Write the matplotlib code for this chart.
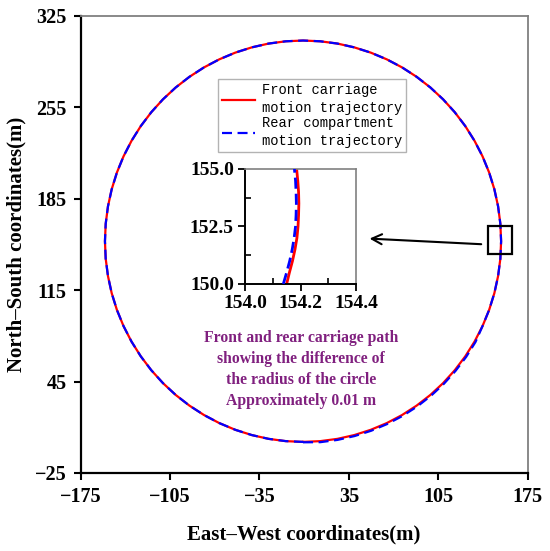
import matplotlib
matplotlib.use("Agg")
import matplotlib.pyplot as plt
from matplotlib.patches import Rectangle

# ---- data ----
front_x = [-0.90, 12.62, 26.03, 39.24, 52.15, 64.65, 76.65, 88.06, 98.80, 108.77, 117.91, 126.15,
           133.42, 139.67, 144.85, 148.92, 151.84, 153.61, 154.20, 153.61, 151.84, 148.92, 144.85,
           139.67, 133.42, 126.15, 117.91, 108.77, 98.80, 88.06, 76.65, 64.65, 52.15, 39.24, 26.03,
           12.62, -0.90, -14.42, -27.83, -41.04, -53.95, -66.45, -78.45, -89.86, -100.60, -110.57,
           -119.71, -127.95, -135.22, -141.47, -146.65, -150.72, -153.64, -155.41, -156.00, -155.41,
           -153.64, -150.72, -146.65, -141.47, -135.22, -127.95, -119.71, -110.57, -100.60, -89.86,
           -78.45, -66.45, -53.95, -41.04, -27.83, -14.42, -0.90]
front_y = [-1.20, -0.61, 1.13, 4.04, 8.07, 13.20, 19.39, 26.60, 34.76, 43.82, 53.70, 64.34, 75.65,
           87.54, 99.93, 112.72, 125.81, 139.10, 152.50, 165.90, 179.19, 192.28, 205.07, 217.46,
           229.35, 240.66, 251.30, 261.18, 270.24, 278.40, 285.61, 291.80, 296.93, 300.96, 303.87,
           305.61, 306.20, 305.61, 303.87, 300.96, 296.93, 291.80, 285.61, 278.40, 270.24, 261.18,
           251.30, 240.66, 229.35, 217.46, 205.07, 192.28, 179.19, 165.90, 152.50, 139.10, 125.81,
           112.72, 99.93, 87.54, 75.65, 64.34, 53.70, 43.82, 34.76, 26.60, 19.39, 13.20, 8.07, 4.04,
           1.13, -0.61, -1.20]
rear_x = [-0.90, 12.69, 26.17, 39.45, 52.42, 64.99, 77.05, 88.52, 99.31, 109.34, 118.52, 126.81,
          134.11, 139.67, 144.85, 148.92, 151.84, 153.61, 154.20, 153.61, 151.84, 148.92, 144.85,
          139.67, 133.42, 126.15, 117.91, 108.77, 98.80, 88.06, 76.65, 64.65, 52.15, 39.24, 26.03,
          12.62, -0.90, -14.42, -27.83, -41.04, -53.95, -66.45, -78.45, -89.86, -100.60, -110.57,
          -119.71, -127.95, -135.22, -141.47, -146.65, -150.72, -153.64, -155.41, -156.00, -155.41,
          -153.64, -150.72, -146.65, -141.47, -135.22, -127.95, -119.71, -110.57, -100.60, -89.86,
          -78.45, -66.45, -53.95, -41.04, -27.83, -14.42, -0.90]
rear_y = [-1.50, -1.41, 0.34, 3.27, 7.32, 12.48, 18.70, 25.94, 34.15, 43.25, 53.19, 63.88, 75.25,
          87.54, 99.93, 112.72, 125.81, 139.10, 152.50, 165.90, 179.19, 192.28, 205.07, 217.46,
          229.35, 240.66, 251.30, 261.18, 270.24, 278.40, 285.61, 291.80, 296.93, 300.96, 303.87,
          305.61, 306.20, 305.61, 303.87, 300.96, 296.93, 291.80, 285.61, 278.40, 270.24, 261.18,
          251.30, 240.66, 229.35, 217.46, 205.07, 192.28, 179.19, 165.90, 152.50, 139.10, 125.81,
          112.72, 99.93, 87.54, 75.65, 64.34, 53.70, 43.82, 34.76, 26.60, 19.39, 13.20, 8.07, 4.04,
          1.13, -0.61, -1.20]

inset_y = [150.0, 150.5, 151.0, 151.5, 152.0, 152.5, 153.0, 153.5, 154.0, 154.5, 155.0]
inset_front_x = [154.150, 154.160, 154.171, 154.180, 154.187, 154.191, 154.193, 154.194, 154.193,
                 154.190, 154.186]
inset_rear_x = [154.138, 154.150, 154.161, 154.170, 154.177, 154.182, 154.184, 154.185, 154.184,
                154.182, 154.178]

x_ticks = [-175, -105, -35, 35, 105, 175]
y_ticks = [-25, 45, 115, 185, 255, 325]
inset_xticks = [154.0, 154.2, 154.4]
inset_yticks = [150.0, 152.5, 155.0]

labels = ["Front carriage\nmotion trajectory", "Rear compartment\nmotion trajectory"]
note = ("Front and rear carriage path\nshowing the difference of\n"
        "the radius of the circle\nApproximately 0.01 m")

serif = "Liberation Serif"
mono = "Liberation Mono"
RED = "#ff0000"
BLUE = "#0000ff"

fig = plt.figure(figsize=(5.5, 5.51), dpi=100)
ax = fig.add_axes([0.1467, 0.1416, 0.8127, 0.8294])

ax.plot(front_x, front_y, color=RED, lw=1.6, label=labels[0], zorder=2)
ax.plot(rear_x, rear_y, color=BLUE, lw=1.6, ls=(0, (4.5, 2.5)), label=labels[1], zorder=3)

ax.set_xlim(-175, 175)
ax.set_ylim(-25, 325)
ax.set_xticks(x_ticks)
ax.set_yticks(y_ticks)
ax.set_xticklabels(["\u2212175", "\u2212105", "\u221235", "35", "105", "175"])
ax.set_yticklabels(["\u221225", "45", "115", "185", "255", "325"])
for lab in ax.get_xticklabels() + ax.get_yticklabels():
    lab.set_fontfamily(serif)
    lab.set_fontweight("bold")
    lab.set_fontsize(14.5)
ax.tick_params(direction="out", length=5, width=1.5, pad=5, colors="black")

for s in ["left", "bottom"]:
    ax.spines[s].set_color("black")
    ax.spines[s].set_linewidth(1.6)
for s in ["top", "right"]:
    ax.spines[s].set_color("#808080")
    ax.spines[s].set_linewidth(1.3)

ax.set_xlabel("East\u2013West coordinates(m)", fontfamily=serif, fontweight="bold",
              fontsize=15, labelpad=13)
ax.set_ylabel("North\u2013South coordinates(m)", fontfamily=serif, fontweight="bold",
              fontsize=15, labelpad=6)

leg = ax.legend(loc="upper left", bbox_to_anchor=(0.307, 0.862), borderaxespad=0,
                prop={"family": mono, "size": 9.9}, frameon=True, fancybox=False,
                handlelength=2.4, handletextpad=0.5, borderpad=0.3, labelspacing=0.1)
leg.get_frame().set_edgecolor("#a0a0a0")
leg.get_frame().set_linewidth(1.0)
for t in leg.get_texts():
    t.set_linespacing(1.35)

# annotation text
ax.text(-2.5, 54.3, note, ha="center", va="center", color="#80207f",
        fontfamily=serif, fontweight="bold", fontsize=11.3, linespacing=1.42)

# zoom rectangle and arrow
ax.add_patch(Rectangle((143.7, 143.0), 18.8, 20.8, fill=False, ec="black", lw=1.6, zorder=4))
ax.annotate("", xy=(49.0, 154.6), xytext=(140.8, 150.1),
            arrowprops=dict(arrowstyle="->", color="black", lw=1.5, mutation_scale=18))

# inset
ins = fig.add_axes([0.4455, 0.4846, 0.2018, 0.2087])
ins.plot(inset_front_x, inset_y, color=RED, lw=2.0, zorder=2)
ins.plot(inset_rear_x, inset_y, color=BLUE, lw=2.0, ls=(0, (4, 1.8)), zorder=3)
ins.set_xlim(154.0, 154.4)
ins.set_ylim(150.0, 155.0)
ins.set_xticks(inset_xticks)
ins.set_yticks(inset_yticks)
ins.set_xticks([154.1, 154.3], minor=True)
ins.set_yticks([151.25, 153.75], minor=True)
ins.set_xticklabels(["154.0", "154.2", "154.4"])
ins.set_yticklabels(["150.0", "152.5", "155.0"])
for lab in ins.get_xticklabels() + ins.get_yticklabels():
    lab.set_fontfamily(serif)
    lab.set_fontweight("bold")
    lab.set_fontsize(14)
ins.tick_params(which="major", direction="out", length=5, width=1.3, pad=3)
ins.tick_params(which="minor", direction="in", length=4, width=1.2)
for s in ["left", "bottom"]:
    ins.spines[s].set_color("black")
    ins.spines[s].set_linewidth(1.4)
for s in ["top", "right"]:
    ins.spines[s].set_color("#808080")
    ins.spines[s].set_linewidth(1.2)

fig.savefig("out.png", dpi=100)
